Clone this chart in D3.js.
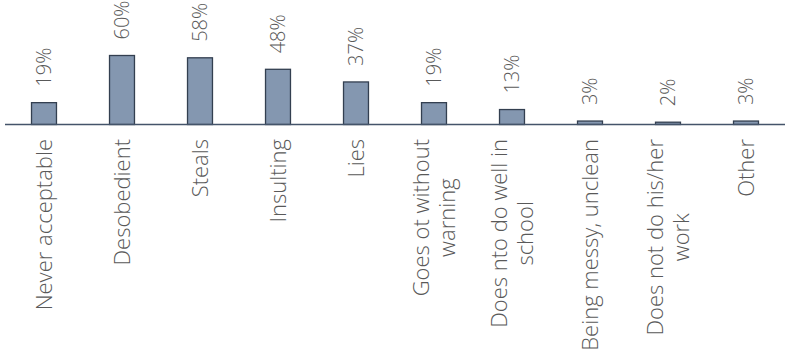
<!DOCTYPE html>
<html>
<head>
<meta charset="utf-8">
<script src="https://cdn.jsdelivr.net/npm/d3@7"></script>
<style>
	body { margin: 0; background: #fff; }
	text { font-family: "Open Sans", sans-serif; font-weight: 300; fill: #595959; }
</style>
</head>
<body>
<div class="chart"></div>
<script>
var categories = [
	["Never acceptable"],
	["Desobedient"],
	["Steals"],
	["Insulting"],
	["Lies"],
	["Goes ot without", "warning"],
	["Does nto do well in", "school"],
	["Being messy, unclean"],
	["Does not do his/her", "work"],
	["Other"]
];
var values = [19, 60, 58, 48, 37, 19, 13, 3, 2, 3];

var width = 785, height = 355,
	baseline = 124.5;

var x = d3.scaleBand()
	.domain(d3.range(categories.length))
	.range([5, 785])
	.paddingInner(0.68)
	.paddingOuter(0.34);

var y = d3.scaleLinear()
	.domain([0, 60])
	.range([baseline, baseline - 69]);

var svg = d3.select(".chart").append("svg")
	.attr("width", width)
	.attr("height", height);

svg.selectAll("rect.bar")
	.data(values)
	.enter().append("rect")
	.attr("class", "bar")
	.attr("x", function(d, i) { return x(i); })
	.attr("y", function(d) { return y(d); })
	.attr("width", x.bandwidth())
	.attr("height", function(d) { return baseline - y(d); })
	.style("fill", "#8497b0")
	.style("stroke", "#333f50")
	.style("stroke-width", 1.3);

// axis line
svg.append("line")
	.attr("x1", 5).attr("x2", 785)
	.attr("y1", baseline).attr("y2", baseline)
	.style("stroke", "#44546a")
	.style("stroke-width", 1.5);

// value labels
svg.selectAll("text.val")
	.data(values)
	.enter().append("text")
	.attr("class", "val")
	.style("font-size", "20px")
	.attr("transform", function(d, i) {
		return "translate(" + [x(i) + x.bandwidth() / 2, y(d) - 16] + ")rotate(-90)";
	})
	.attr("dy", "0.35em")
	.text(function(d) { return d + "%"; });

// category labels
var lineH = 26;
var cat = svg.selectAll("g.cat")
	.data(categories)
	.enter().append("g")
	.attr("class", "cat")
	.attr("transform", function(d, i) {
		return "translate(" + (x(i) + x.bandwidth() / 2) + "," + 139 + ")rotate(-90)";
	});

cat.each(function(lines) {
	var g = d3.select(this);
	var texts = g.selectAll("text")
		.data(lines)
		.enter().append("text")
		.style("font-size", "22px")
		.attr("text-anchor", "middle")
		.attr("y", function(d, j) { return (j - (lines.length - 1) / 2) * lineH; })
		.attr("dy", "0.35em")
		.text(function(d) { return d; });
	var maxW = d3.max(texts.nodes(), function(n) { return n.getComputedTextLength(); });
	texts.attr("x", -maxW / 2);
});
</script>
</body>
</html>
